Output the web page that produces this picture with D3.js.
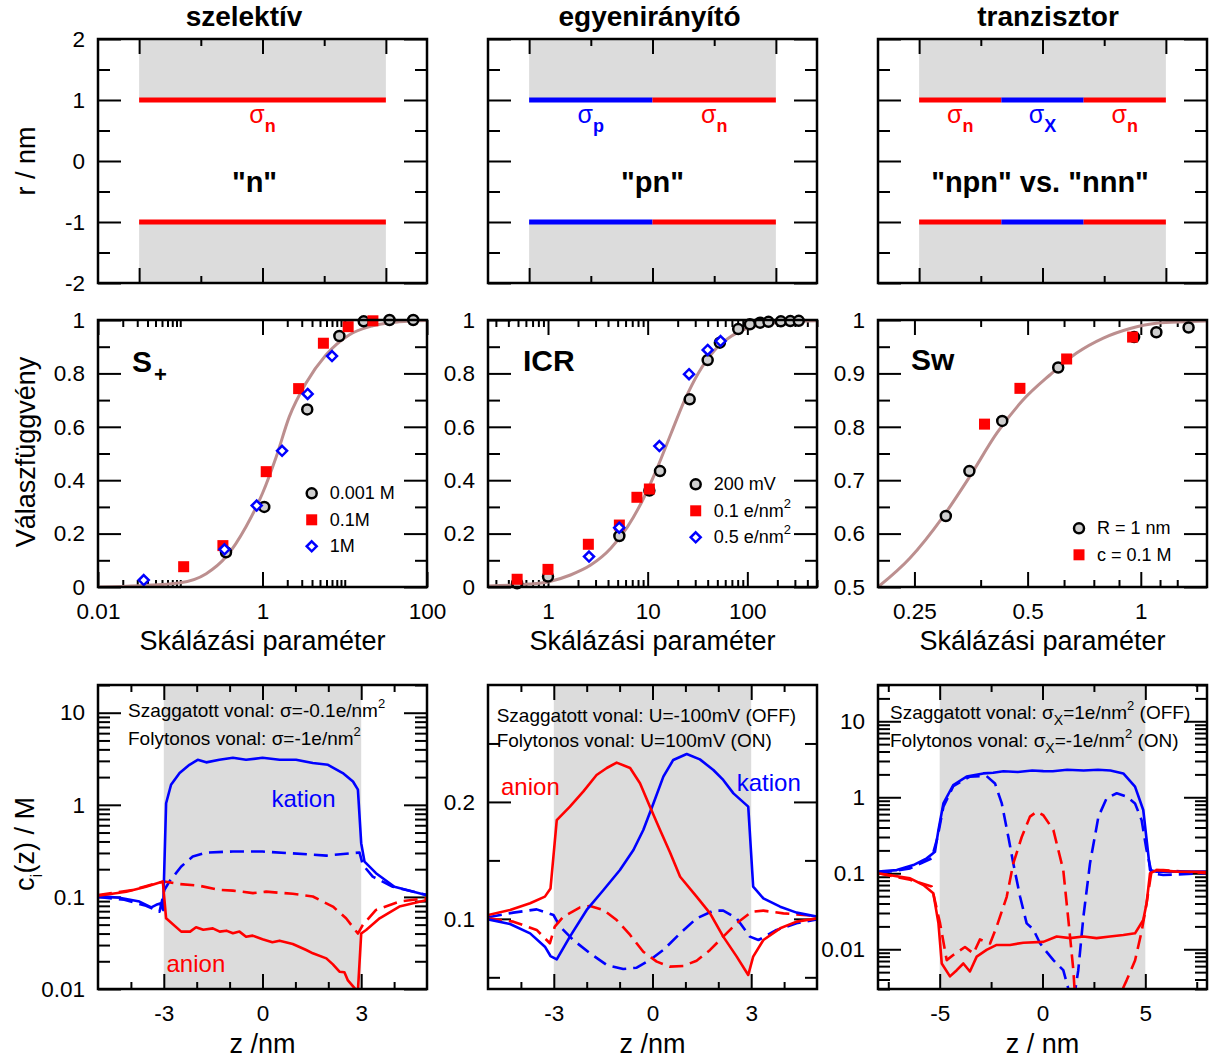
<!DOCTYPE html>
<html>
<head>
<meta charset="utf-8">
<script src="https://cdn.jsdelivr.net/npm/d3@7"></script>
<style>
body{margin:0;background:#fff}
text{font-family:"Liberation Sans",Arial,Helvetica,sans-serif}
</style>
</head>
<body>
<script>
// ---------- data ----------
// top row: pore schematics, wall segments [z0, z1, charge type]
const titles = ["szelektív", "egyenirányító", "tranzisztor"];
const poreNames = ['"n"', '"pn"', '"npn" vs. "nnn"'];
const selSegs = [[-3, 3, "n"]];
const recSegs = [[-3, 0, "p"], [0, 3, "n"]];
const traSegs = [[-3, -1, "n"], [-1, 1, "X"], [1, 3, "n"]];
const schemTicksY = [-2, -1, 0, 1, 2];

// middle row: response functions
const selCircX = [0.36, 1.05, 3.5, 8.6, 17, 35, 68];
const selCircY = [0.13, 0.30, 0.665, 0.94, 0.995, 1.0, 1.0];
const selSqX = [0.11, 0.33, 1.11, 2.75, 5.5, 11, 22];
const selSqY = [0.076, 0.155, 0.432, 0.743, 0.913, 0.975, 0.997];
const selDiaX = [0.036, 0.345, 0.85, 1.73, 3.54, 7.0];
const selDiaY = [0.026, 0.141, 0.305, 0.51, 0.723, 0.865];
const selFitX = [0.01, 0.0316, 0.1, 0.207, 0.363, 0.63, 1.0, 1.47, 2.12, 3.37, 5.9, 11.3, 21.8, 45.6, 100];
const selFitY = [0, 0.005, 0.016, 0.05, 0.114, 0.226, 0.351, 0.488, 0.638, 0.763, 0.869, 0.944, 0.978, 0.993, 0.998];

const icrCircX = [0.49, 1.0, 5.2, 10.4, 13.3, 26.4, 40, 53, 81, 106, 134, 163, 217, 270, 328];
const icrCircY = [0.014, 0.039, 0.191, 0.361, 0.434, 0.703, 0.85, 0.915, 0.966, 0.984, 0.99, 0.993, 0.995, 0.996, 0.997];
const icrSqX = [0.49, 1.0, 2.54, 5.2, 7.8, 10.4];
const icrSqY = [0.029, 0.066, 0.16, 0.232, 0.336, 0.367];
const icrDiaX = [2.58, 5.18, 13.1, 26, 40, 53.9];
const icrDiaY = [0.114, 0.222, 0.528, 0.797, 0.888, 0.921];
const icrFitX = [0.252, 0.664, 1.02, 1.68, 2.68, 4.27, 6.29, 9.26, 12.6, 17.2, 23.5, 32.1, 47.2, 69.5, 111, 222, 500];
const icrFitY = [0.004, 0.011, 0.02, 0.045, 0.082, 0.145, 0.226, 0.338, 0.45, 0.576, 0.70, 0.80, 0.888, 0.94, 0.975, 0.992, 0.997];

const swCircX = [0.303, 0.350, 0.428, 0.603, 0.96, 1.10, 1.34];
const swCircY = [0.633, 0.717, 0.811, 0.911, 0.968, 0.977, 0.986];
const swSqX = [0.384, 0.477, 0.635, 0.951];
const swSqY = [0.805, 0.872, 0.927, 0.968];
const swFitX = [0.2, 0.243, 0.298, 0.351, 0.414, 0.486, 0.573, 0.675, 0.795, 0.937, 1.10, 1.5];
const swFitY = [0.5, 0.554, 0.632, 0.707, 0.788, 0.85, 0.897, 0.938, 0.966, 0.984, 0.994, 0.998];

// bottom row: concentration profiles [z, c]
const selCatOn = [[-5,0.103],[-4.35,0.098],[-3.74,0.089],[-3.38,0.077],[-3.23,0.082],[-3.11,0.085],[-3.02,0.072],[-2.93,1.04],[-2.78,1.65],[-2.52,2.21],[-2.22,2.72],[-1.97,3.08],[-1.71,2.89],[-1.31,3.08],[-0.9,3.24],[-0.5,3.08],[0,3.24],[0.52,3.08],[1.02,3.08],[1.53,2.84],[1.99,2.72],[2.44,2.21],[2.75,1.79],[2.9,1.46],[3.0,0.383],[3.1,0.242],[3.45,0.181],[4.01,0.129],[5,0.104]];
const selCatOff = [[-5,0.1],[-4.2,0.093],[-3.54,0.08],[-3.13,0.069],[-2.98,0.119],[-2.83,0.147],[-2.47,0.214],[-2.12,0.274],[-1.71,0.303],[-0.9,0.311],[0,0.311],[0.92,0.297],[1.94,0.281],[2.95,0.303],[3.05,0.223],[3.35,0.166],[3.96,0.129],[5,0.105]];
const selAnOn = [[-5,0.103],[-4.14,0.114],[-3.54,0.129],[-3.03,0.147],[-2.93,0.0586],[-2.47,0.042],[-2.2,0.042],[-2.02,0.0468],[-1.8,0.044],[-1.51,0.0455],[-1.3,0.042],[-1.1,0.043],[-0.9,0.0403],[-0.7,0.042],[-0.5,0.037],[-0.3,0.038],[0,0.0347],[0.3,0.0322],[0.52,0.0335],[0.92,0.0308],[1.33,0.0265],[1.53,0.0244],[1.94,0.0215],[2.14,0.0185],[2.34,0.0154],[2.49,0.0152],[2.59,0.0125],[2.8,0.0102],[2.9,0.0095],[3.0,0.040],[3.15,0.0438],[3.56,0.0586],[4.16,0.0785],[5,0.0927]];
const selAnOff = [[-5,0.105],[-3.94,0.119],[-3.23,0.141],[-2.98,0.147],[-2.52,0.138],[-1.91,0.132],[-1.31,0.119],[-0.9,0.117],[-0.29,0.11],[0.11,0.114],[0.92,0.108],[1.53,0.101],[2.14,0.0785],[2.54,0.0586],[2.9,0.040],[3.05,0.0497],[3.45,0.0722],[4.16,0.089],[5,0.097]];

const recAnOn = [[-5,0.1033],[-4.33,0.1076],[-3.72,0.1133],[-3.27,0.119],[-3.1,0.126],[-2.91,0.1845],[-2.51,0.196],[-2.1,0.209],[-1.7,0.223],[-1.39,0.229],[-1.09,0.2336],[-0.68,0.229],[-0.38,0.216],[-0.08,0.196],[0.23,0.176],[0.53,0.157],[0.84,0.136],[1.34,0.119],[1.75,0.1047],[2.15,0.0848],[2.56,0.0677],[2.91,0.052],[3.06,0.0677],[3.37,0.0819],[3.88,0.0919],[4.38,0.0976],[5,0.1004]];
const recCatOn = [[-5,0.0996],[-4.33,0.0956],[-3.72,0.0876],[-3.27,0.0762],[-3.1,0.0682],[-2.91,0.0654],[-2.51,0.0848],[-2.0,0.1076],[-1.49,0.1247],[-0.99,0.1418],[-0.58,0.1589],[-0.28,0.176],[0.03,0.1988],[0.33,0.2216],[0.63,0.2359],[1.04,0.241],[1.44,0.2364],[1.85,0.2273],[2.15,0.2188],[2.46,0.2073],[2.91,0.196],[3.06,0.1275],[3.37,0.1175],[3.88,0.1104],[4.38,0.1053],[5,0.1019]];
const recAnOff = [[-5,0.1004],[-4.23,0.0976],[-3.52,0.0905],[-3.12,0.0791],[-2.97,0.0933],[-2.71,0.1019],[-2.2,0.1098],[-1.9,0.111],[-1.49,0.1076],[-1.09,0.099],[-0.68,0.0862],[-0.28,0.0719],[0.13,0.0634],[0.53,0.0591],[0.94,0.0597],[1.34,0.0642],[1.75,0.0734],[2.15,0.0848],[2.56,0.0962],[3.02,0.1061],[3.37,0.107],[3.98,0.1047],[5,0.1024]];
const recCatOff = [[-5,0.1013],[-4.23,0.1053],[-3.52,0.1081],[-3.01,0.1033],[-2.81,0.0933],[-2.41,0.0819],[-1.9,0.0705],[-1.39,0.0605],[-0.89,0.0571],[-0.48,0.0582],[-0.08,0.0648],[0.33,0.0734],[0.84,0.0876],[1.34,0.1004],[1.85,0.107],[2.15,0.107],[2.56,0.1004],[2.96,0.0848],[3.22,0.0819],[3.77,0.0905],[4.38,0.0962],[5,0.0996]];

const traCatOn = [[-8,0.105],[-7.09,0.11],[-6.28,0.128],[-5.63,0.157],[-5.23,0.192],[-5.06,0.371],[-4.82,0.83],[-4.34,1.45],[-3.69,1.87],[-2.88,2.06],[-2.4,2.1],[-1.9,2.2],[-1.2,2.15],[-0.5,2.25],[0.04,2.21],[0.5,2.2],[1.2,2.3],[2,2.25],[2.7,2.3],[3.3,2.25],[3.93,2.06],[4.5,1.38],[4.9,0.68],[5.23,0.11],[5.55,0.105],[6.52,0.105],[8,0.105]];
const traCatOff = [[-8,0.1],[-6.44,0.116],[-5.39,0.157],[-5.1,0.3],[-4.82,0.75],[-4.34,1.4],[-3.53,1.87],[-2.72,1.9],[-2.31,1.52],[-1.98,0.83],[-1.66,0.30],[-1.42,0.135],[-1.09,0.049],[-0.77,0.0219],[-0.45,0.0183],[-0.12,0.012],[0.12,0.0098],[0.53,0.0072],[1.01,0.0053],[1.26,0.003],[1.5,0.002],[1.74,0.0053],[1.99,0.0269],[2.31,0.135],[2.72,0.556],[3.12,0.97],[3.61,1.13],[4.09,1.02],[4.5,0.83],[4.82,0.5],[5.06,0.202],[5.31,0.1],[5.87,0.095],[8,0.1]];
const traAnOn = [[-8,0.1],[-6.44,0.0857],[-5.79,0.07],[-5.31,0.0545],[-5.06,0.0219],[-4.9,0.0065],[-4.5,0.0044],[-4.17,0.0053],[-3.85,0.0065],[-3.53,0.0051],[-3.2,0.008],[-2.72,0.0098],[-2.23,0.0114],[-1.58,0.0114],[-0.93,0.0122],[0.04,0.0125],[0.69,0.0147],[1.34,0.014],[1.99,0.0147],[2.63,0.014],[3.28,0.0147],[3.93,0.0154],[4.5,0.0162],[4.9,0.0243],[5.06,0.04],[5.23,0.1],[5.55,0.11],[6.52,0.105],[8,0.104]];
const traAnOff = [[-8,0.1],[-6.44,0.082],[-5.39,0.067],[-4.98,0.0219],[-4.66,0.0072],[-4.34,0.0084],[-3.77,0.0107],[-3.36,0.0088],[-3.04,0.0135],[-2.55,0.0119],[-2.23,0.0198],[-1.74,0.049],[-1.42,0.135],[-1.01,0.30],[-0.61,0.556],[-0.28,0.645],[0.04,0.58],[0.53,0.37],[1.01,0.11],[1.34,0.0147],[1.5,0.0053],[1.6,0.002],[3.6,0.002],[4.09,0.0039],[4.5,0.0071],[4.82,0.0171],[5.06,0.04],[5.31,0.11],[5.87,0.11],[8,0.1]];

// ---------- layout ----------
const RED = "#ff0000", BLUE = "#0000ff", GRAY = "#dcdcdc", FIT = "#bc8f8f";
const segColor = {n: RED, p: BLUE, X: BLUE};
const colX = [98, 488, 878], PW = 329;
const rowTop = {y: 39, h: 244}, rowMid = {y: 320, h: 267}, rowBot = {y: 685, h: 304};
const titleShift = [-18.5, -3, 5.5], nameShift = [-8, 0, -2.5];

const svg = d3.select("body").append("svg").attr("width", 1210).attr("height", 1061);
const defs = svg.append("defs");

function panel(ix, row, id) {
  defs.append("clipPath").attr("id", id).append("rect").attr("width", PW).attr("height", row.h);
  return svg.append("g").attr("transform", "translate(" + colX[ix] + "," + row.y + ")");
}

// log minor ticks 2..9 per decade inside a domain
function logMinor(lo, hi, decades) {
  const out = [];
  decades.forEach(d => { for (let k = 2; k <= 9; k++) { const v = +(k * d).toPrecision(3); if (v >= lo && v <= hi) out.push(v); } });
  return out;
}

// inward ticks on all four sides, labels bottom/left only
function ticks(g, x, y, w, h, xt, yt) {
  const sides = [
    [d3.axisBottom, x, xt, "translate(0," + h + ")", 15, 7, xt.lab, 16],
    [d3.axisTop, x, xt, null, 15, 7, false, 13],
    [d3.axisLeft, y, yt, null, 23, 12, yt.lab, 13],
    [d3.axisRight, y, yt, "translate(" + w + ",0)", 23, 12, false, 13]
  ];
  sides.forEach(s => {
    g.append("g").attr("transform", s[3])
      .call(s[0](s[1]).tickValues(s[2].minor).tickSize(-s[5]).tickFormat(""));
    g.append("g").attr("transform", s[3])
      .call(s[0](s[1]).tickValues(s[2].major).tickSize(-s[4]).tickPadding(s[7])
        .tickFormat(s[6] ? (d => String(d)) : ""));
  });
  g.selectAll(".domain").remove();
  g.selectAll(".tick line").attr("stroke", "#000").attr("stroke-width", 2);
  g.selectAll(".tick text").attr("font-size", 22.5).attr("fill", "#000")
    .style("font-family", '"Liberation Sans", Arial, sans-serif');
}

function frame(g, w, h) {
  g.append("rect").attr("width", w).attr("height", h)
    .attr("fill", "none").attr("stroke", "#000").attr("stroke-width", 2.5);
}

// ---------- top row ----------
const segSets = [selSegs, recSegs, traSegs];
segSets.forEach((segs, i) => {
  const g = panel(i, rowTop, "clipT" + i);
  const x = d3.scaleLinear().domain([-4, 4]).range([0, PW]);
  const y = d3.scaleLinear().domain([-2, 2]).range([rowTop.h, 0]);
  g.append("rect").attr("x", x(-3)).attr("width", x(3) - x(-3)).attr("y", y(2)).attr("height", y(1) - y(2)).attr("fill", GRAY);
  g.append("rect").attr("x", x(-3)).attr("width", x(3) - x(-3)).attr("y", y(-1)).attr("height", y(-2) - y(-1)).attr("fill", GRAY);
  ticks(g, x, y, PW, rowTop.h,
    {major: [-3, 0, 3], minor: [-1.5, 1.5], lab: false},
    {major: schemTicksY, minor: [-1.5, -0.5, 0.5, 1.5], lab: i === 0});
  [1, -1].forEach(r => {
    g.selectAll(null).data(segs).enter().append("line")
      .attr("x1", d => x(d[0])).attr("x2", d => x(d[1]))
      .attr("y1", y(r)).attr("y2", y(r))
      .attr("stroke", d => segColor[d[2]]).attr("stroke-width", 5);
  });
  const lab = g.selectAll(null).data(segs).enter().append("text")
    .attr("x", d => x((d[0] + d[1]) / 2)).attr("y", y(1) + 23)
    .attr("text-anchor", "middle").attr("fill", d => segColor[d[2]])
    .attr("font-size", 25);
  lab.append("tspan").text("σ");
  lab.append("tspan").attr("dy", 9).attr("font-size", 18).attr("font-weight", "bold").text(d => d[2]);
  g.append("text").attr("x", x(0) + nameShift[i]).attr("y", y(-0.5)).attr("text-anchor", "middle")
    .attr("font-size", 29).attr("font-weight", "bold").text(poreNames[i]);
  g.append("text").attr("x", x(0) + titleShift[i]).attr("y", -13).attr("text-anchor", "middle")
    .attr("font-size", 28).attr("font-weight", "bold").text(titles[i]);
  frame(g, PW, rowTop.h);
});

// ---------- middle row ----------
function markers(g, x, y, xs, ys, kind) {
  const m = g.append("g");
  const pts = xs.map((v, k) => [x(v), y(ys[k])]);
  if (kind === "circle") {
    m.selectAll(null).data(pts).enter().append("circle")
      .attr("cx", d => d[0]).attr("cy", d => d[1]).attr("r", 5)
      .attr("fill", "#cfcfcf").attr("stroke", "#000").attr("stroke-width", 2.5);
  } else if (kind === "square") {
    m.selectAll(null).data(pts).enter().append("rect")
      .attr("x", d => d[0] - 5.5).attr("y", d => d[1] - 5.5).attr("width", 11).attr("height", 11)
      .attr("fill", RED);
  } else {
    m.selectAll(null).data(pts).enter().append("path")
      .attr("d", d => "M" + d[0] + "," + (d[1] - 5) + "L" + (d[0] + 5) + "," + d[1] + "L" + d[0] + "," + (d[1] + 5) + "L" + (d[0] - 5) + "," + d[1] + "Z")
      .attr("fill", "#fff").attr("stroke", BLUE).attr("stroke-width", 2.5);
  }
  return m;
}

function fitLine(g, x, y, xs, ys, clip) {
  g.append("path").attr("clip-path", "url(#" + clip + ")")
    .datum(xs.map((v, k) => [v, ys[k]]))
    .attr("fill", "none").attr("stroke", FIT).attr("stroke-width", 3)
    .attr("d", d3.line().x(d => x(d[0])).y(d => y(d[1])).curve(d3.curveMonotoneX));
}

function legend(g, x0, y0, items) {
  items.forEach((it, k) => {
    const yy = y0 + k * 26.5;
    markers(g, v => v, v => v, [x0], [yy], it[0]);
    const t = g.append("text").attr("x", x0 + 18).attr("y", yy + 6).attr("font-size", 18);
    t.append("tspan").text(it[1]);
    if (it[2]) t.append("tspan").attr("dy", -9).attr("font-size", 13).text(it[2]);
  });
}

function bigLabel(g, px, py, main, sub) {
  const t = g.append("text").attr("x", px).attr("y", py).attr("font-size", 30).attr("font-weight", "bold");
  t.append("tspan").text(main);
  if (sub) t.append("tspan").attr("dy", 10).attr("dx", 2).attr("font-size", 22).text(sub);
}

{
  const g = panel(0, rowMid, "clipM0");
  const x = d3.scaleLog().domain([0.01, 100]).range([0, PW]);
  const y = d3.scaleLinear().domain([0, 1]).range([rowMid.h, 0]);
  ticks(g, x, y, PW, rowMid.h,
    {major: [0.01, 1, 100], minor: logMinor(0.01, 100, [0.01, 1]).concat([0.1, 10]), lab: true},
    {major: [0, 0.2, 0.4, 0.6, 0.8, 1], minor: [0.1, 0.3, 0.5, 0.7, 0.9], lab: true});
  fitLine(g, x, y, selFitX, selFitY, "clipM0");
  markers(g, x, y, selCircX, selCircY, "circle");
  markers(g, x, y, selSqX, selSqY, "square");
  markers(g, x, y, selDiaX, selDiaY, "diamond");
  legend(g, 213.7, 173.3, [["circle", "0.001 M"], ["square", "0.1M"], ["diamond", "1M"]]);
  bigLabel(g, 34, 52, "S", "+");
  frame(g, PW, rowMid.h);
}
{
  const g = panel(1, rowMid, "clipM1");
  const x = d3.scaleLog().domain([0.25, 500]).range([0, PW]);
  const y = d3.scaleLinear().domain([0, 1]).range([rowMid.h, 0]);
  ticks(g, x, y, PW, rowMid.h,
    {major: [1, 10, 100], minor: logMinor(0.25, 500, [0.1, 1, 10, 100]), lab: true},
    {major: [0, 0.2, 0.4, 0.6, 0.8, 1], minor: [0.1, 0.3, 0.5, 0.7, 0.9], lab: true});
  fitLine(g, x, y, icrFitX, icrFitY, "clipM1");
  markers(g, x, y, icrCircX, icrCircY, "circle");
  markers(g, x, y, icrSqX, icrSqY, "square");
  markers(g, x, y, icrDiaX, icrDiaY, "diamond");
  legend(g, 207.7, 164.3, [["circle", "200 mV"], ["square", "0.1 e/nm", "2"], ["diamond", "0.5 e/nm", "2"]]);
  bigLabel(g, 35, 51, "ICR");
  frame(g, PW, rowMid.h);
}
{
  const g = panel(2, rowMid, "clipM2");
  const x = d3.scaleLog().domain([0.2, 1.5]).range([0, PW]);
  const y = d3.scaleLinear().domain([0.5, 1]).range([rowMid.h, 0]);
  ticks(g, x, y, PW, rowMid.h,
    {major: [0.25, 0.5, 1], minor: [0.375, 0.625, 0.75, 0.875, 1.125, 1.25], lab: true},
    {major: [0.5, 0.6, 0.7, 0.8, 0.9, 1], minor: [0.55, 0.65, 0.75, 0.85, 0.95], lab: true});
  fitLine(g, x, y, swFitX, swFitY, "clipM2");
  markers(g, x, y, swCircX, swCircY, "circle");
  markers(g, x, y, swSqX, swSqY, "square");
  legend(g, 201, 208.3, [["circle", "R = 1 nm"], ["square", "c = 0.1 M"]]);
  bigLabel(g, 33, 50, "Sw");
  frame(g, PW, rowMid.h);
}

// ---------- bottom row ----------
function profile(g, x, y, data, color, dashed, clip) {
  g.append("path").attr("clip-path", "url(#" + clip + ")").datum(data)
    .attr("fill", "none").attr("stroke", color).attr("stroke-width", 2.6)
    .attr("stroke-linejoin", "round")
    .attr("stroke-dasharray", dashed ? "14,7" : null)
    .attr("d", d3.line().x(d => x(d[0])).y(d => y(d[1])));
}

function note(g, px, py, parts) {
  const t = g.append("text").attr("x", px).attr("y", py).attr("font-size", 19).attr("fill", "#000");
  parts.forEach(p => {
    const s = t.append("tspan").text(p[0]);
    if (p[1]) s.attr("dy", p[1]);
    if (p[2]) s.attr("font-size", p[2]);
  });
}

function word(g, px, py, txt, color) {
  g.append("text").attr("x", px).attr("y", py).attr("font-size", 24).attr("fill", color).text(txt);
}

{
  const g = panel(0, rowBot, "clipB0");
  const x = d3.scaleLinear().domain([-5, 5]).range([0, PW]);
  const y = d3.scaleLog().domain([0.01, 20]).range([rowBot.h, 0]);
  g.append("rect").attr("x", x(-3)).attr("width", x(3) - x(-3)).attr("height", rowBot.h).attr("fill", GRAY);
  ticks(g, x, y, PW, rowBot.h,
    {major: [-3, 0, 3], minor: [-4, -2, -1, 1, 2, 4], lab: true},
    {major: [0.01, 0.1, 1, 10], minor: logMinor(0.01, 20, [0.01, 0.1, 1, 10]), lab: true});
  profile(g, x, y, selCatOff, BLUE, true, "clipB0");
  profile(g, x, y, selAnOff, RED, true, "clipB0");
  profile(g, x, y, selCatOn, BLUE, false, "clipB0");
  profile(g, x, y, selAnOn, RED, false, "clipB0");
  note(g, 30, 32, [["Szaggatott vonal: σ=-0.1e/nm"], ["2", -9, 13]]);
  note(g, 30, 60, [["Folytonos vonal: σ=-1e/nm"], ["2", -9, 13]]);
  word(g, 173.5, 122, "kation", BLUE);
  word(g, 68.5, 287, "anion", RED);
  frame(g, PW, rowBot.h);
}
{
  const g = panel(1, rowBot, "clipB1");
  const x = d3.scaleLinear().domain([-5, 5]).range([0, PW]);
  const y = d3.scaleLinear().domain([0.04, 0.3]).range([rowBot.h, 0]);
  g.append("rect").attr("x", x(-3)).attr("width", x(3) - x(-3)).attr("height", rowBot.h).attr("fill", GRAY);
  ticks(g, x, y, PW, rowBot.h,
    {major: [-3, 0, 3], minor: [-4, -2, -1, 1, 2, 4], lab: true},
    {major: [0.1, 0.2], minor: [0.05, 0.15, 0.25], lab: true});
  profile(g, x, y, recCatOff, BLUE, true, "clipB1");
  profile(g, x, y, recAnOff, RED, true, "clipB1");
  profile(g, x, y, recCatOn, BLUE, false, "clipB1");
  profile(g, x, y, recAnOn, RED, false, "clipB1");
  note(g, 8.7, 37, [["Szaggatott vonal: U=-100mV (OFF)"]]);
  note(g, 8.7, 62, [["Folytonos vonal: U=100mV (ON)"]]);
  word(g, 13, 110, "anion", RED);
  word(g, 248.7, 106, "kation", BLUE);
  frame(g, PW, rowBot.h);
}
{
  const g = panel(2, rowBot, "clipB2");
  const x = d3.scaleLinear().domain([-8, 8]).range([0, PW]);
  const y = d3.scaleLog().domain([0.003, 30]).range([rowBot.h, 0]);
  g.append("rect").attr("x", x(-5)).attr("width", x(5) - x(-5)).attr("height", rowBot.h).attr("fill", GRAY);
  ticks(g, x, y, PW, rowBot.h,
    {major: [-5, 0, 5], minor: [-7.5, -2.5, 2.5, 7.5], lab: true},
    {major: [0.01, 0.1, 1, 10], minor: logMinor(0.003, 30, [0.001, 0.01, 0.1, 1, 10]), lab: true});
  profile(g, x, y, traCatOff, BLUE, true, "clipB2");
  profile(g, x, y, traAnOff, RED, true, "clipB2");
  profile(g, x, y, traCatOn, BLUE, false, "clipB2");
  profile(g, x, y, traAnOn, RED, false, "clipB2");
  note(g, 12, 34, [["Szaggatott vonal: σ"], ["X", 6, 14], ["=1e/nm", -6, 19], ["2", -9, 13], [" (OFF)", 9, 19]]);
  note(g, 12, 62, [["Folytonos vonal: σ"], ["X", 6, 14], ["=-1e/nm", -6, 19], ["2", -9, 13], [" (ON)", 9, 19]]);
  frame(g, PW, rowBot.h);
}

// ---------- axis titles ----------
function vtitle(cx, cy, parts) {
  const t = svg.append("text").attr("transform", "translate(" + cx + "," + cy + ") rotate(-90)")
    .attr("text-anchor", "middle").attr("font-size", 27);
  parts.forEach(p => { const s = t.append("tspan").text(p[0]); if (p[1]) s.attr("dy", p[1]); if (p[2]) s.attr("font-size", p[2]); });
}
vtitle(35, 161, [["r / nm"]]);
vtitle(35, 452, [["Válaszfüggvény"]]);
vtitle(34, 844, [["c"], ["i", 8, 17], ["(z)  / M", -8, 27]]);

[0, 1, 2].forEach(i => {
  const cx = colX[i] + PW / 2;
  svg.append("text").attr("x", cx).attr("y", 650).attr("text-anchor", "middle").attr("font-size", 27).text("Skálázási paraméter");
  svg.append("text").attr("x", cx).attr("y", 1053).attr("text-anchor", "middle").attr("font-size", 27).text(i === 2 ? "z / nm" : "z /nm");
});
</script>
</body>
</html>
